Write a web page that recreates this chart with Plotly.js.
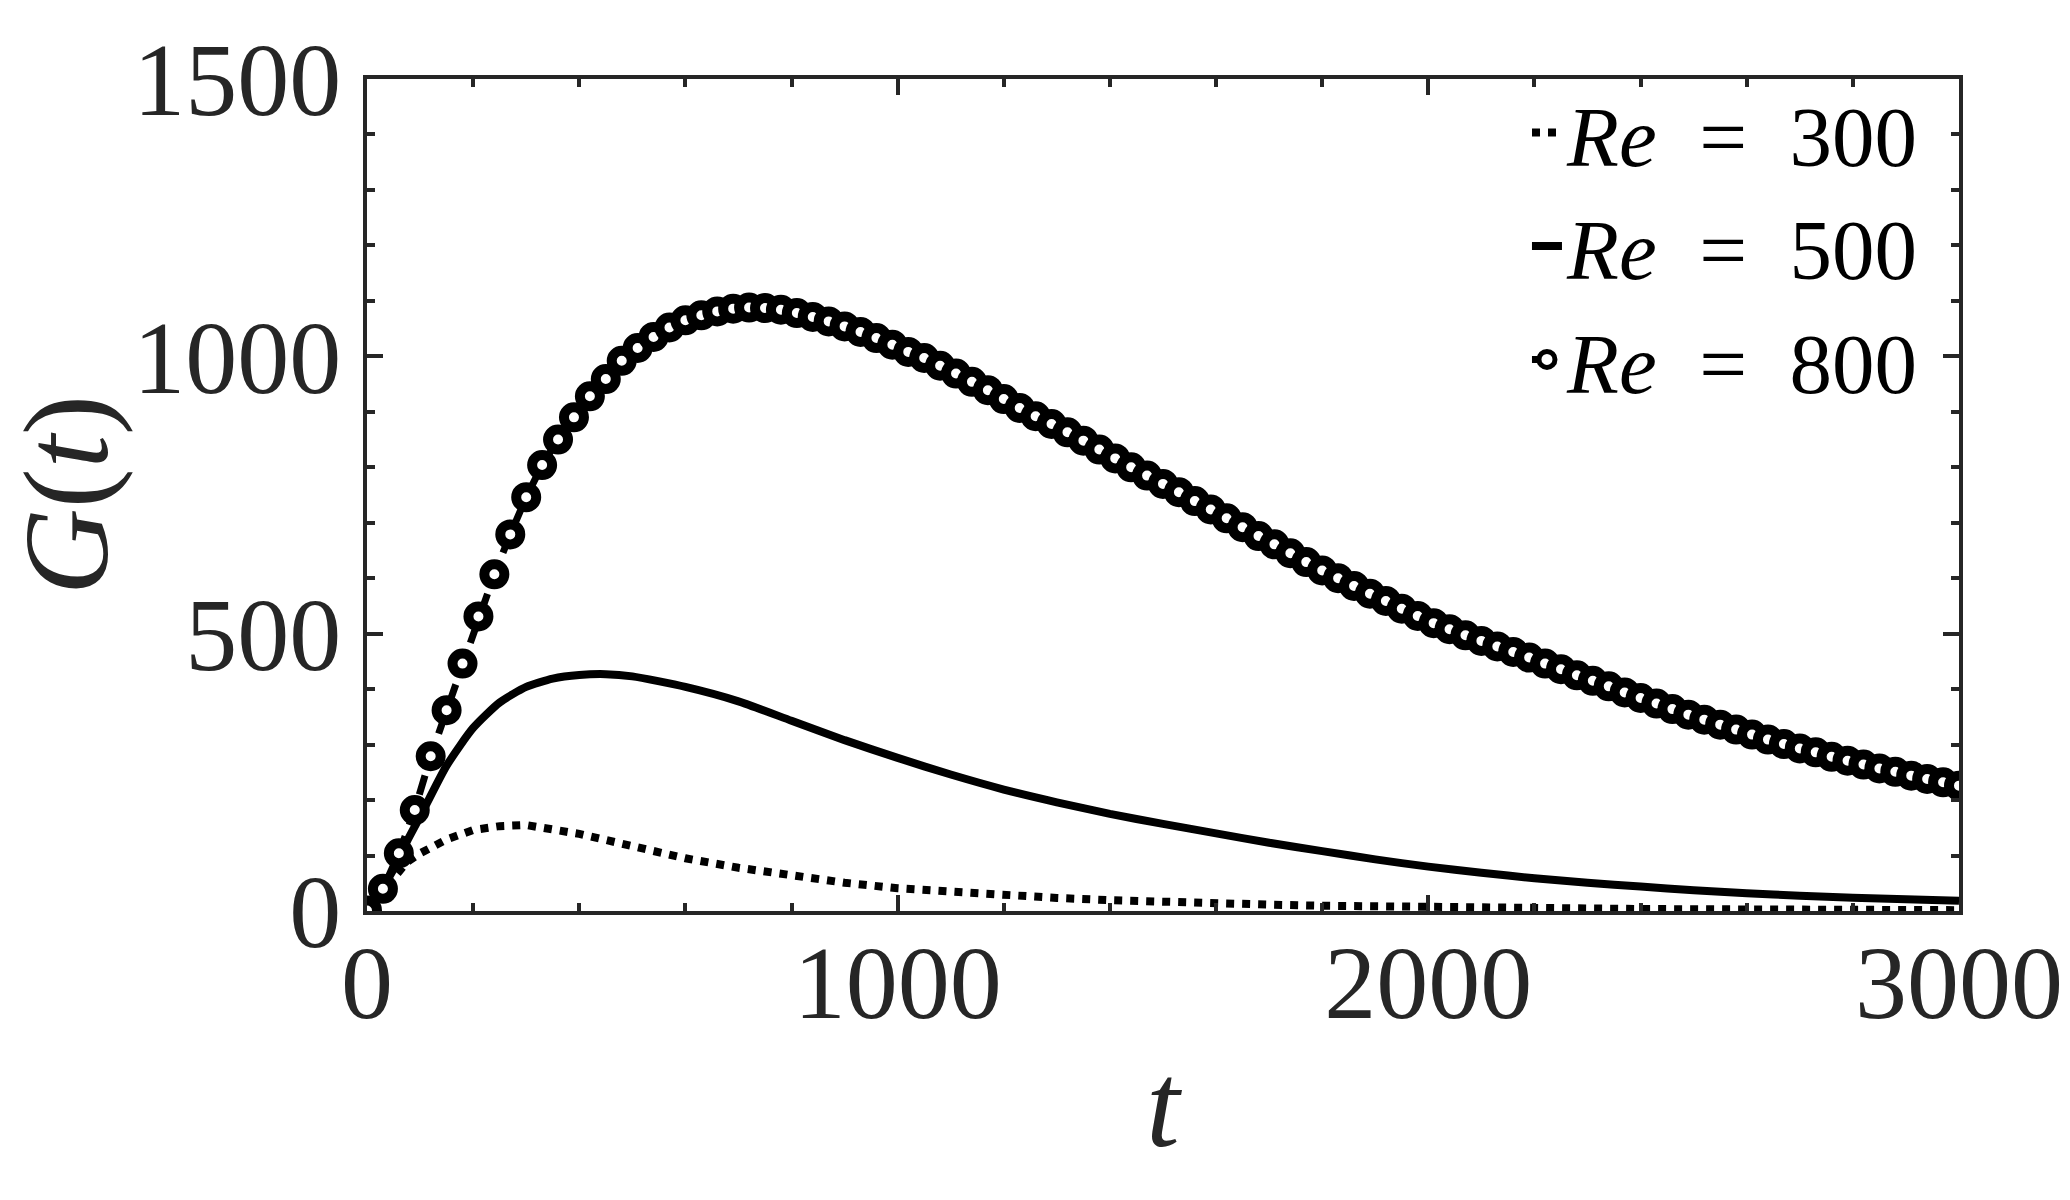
<!DOCTYPE html>
<html>
<head>
<meta charset="utf-8">
<script src="https://cdn.plot.ly/plotly-3.0.1.min.js"></script>
<style>
  html, body { margin: 0; padding: 0; background: #fff; }
  #chart { width: 2070px; height: 1200px; }
</style>
</head>
<body>
<div id="chart"></div>
<script>
// time samples used for the two plain lines
const tLine = [0, 25, 50, 75, 100, 150, 200, 250, 300, 350, 400, 450, 500,
  600, 700, 800, 900, 1000, 1100, 1200, 1300, 1400, 1500, 1600, 1700, 1800,
  1900, 2000, 2100, 2200, 2300, 2400, 2500, 2600, 2700, 2800, 2900, 3000];

// Re = 300, dotted
const g300 = [1, 30, 62, 88, 104, 129, 146, 153, 155, 148, 139, 128, 117,
  95, 78, 63, 51, 41, 34, 28.5, 23.5, 19.5, 16, 13.5, 11.5, 9.5,
  8, 7, 6, 5, 4.3, 3.7, 3.2, 2.7, 2.3, 2, 1.7, 1.5];

// Re = 500, solid
const g500 = [1, 35, 75, 125, 170, 262, 330, 376, 404, 419, 425.5, 427, 423,
  404, 378, 343, 308, 276, 246, 219, 196, 175, 157, 140, 123, 108,
  93, 80, 69, 59, 51, 44, 37.5, 32, 27.5, 24, 21, 18.6];

// Re = 800, dashed line with circle markers (one marker every 30 time units)
const tMarker = [0, 30, 60, 90, 120, 150, 180, 210, 240, 270, 300, 330, 360,
  390, 420, 450, 480, 510, 540, 570, 600, 630, 660, 690, 720, 750, 780, 810,
  840, 870, 900, 930, 960, 990, 1020, 1050, 1080, 1110, 1140, 1170, 1200,
  1230, 1260, 1290, 1320, 1350, 1380, 1410, 1440, 1470, 1500, 1530, 1560,
  1590, 1620, 1650, 1680, 1710, 1740, 1770, 1800, 1830, 1860, 1890, 1920,
  1950, 1980, 2010, 2040, 2070, 2100, 2130, 2160, 2190, 2220, 2250, 2280,
  2310, 2340, 2370, 2400, 2430, 2460, 2490, 2520, 2550, 2580, 2610, 2640,
  2670, 2700, 2730, 2760, 2790, 2820, 2850, 2880, 2910, 2940, 2970, 3000];

const g800 = [1, 40, 104, 182, 279, 362, 446, 531, 607, 679, 746, 804, 850,
  890, 928, 959, 992, 1015, 1035, 1052, 1065, 1074, 1081, 1086, 1088, 1087,
  1084, 1078, 1071, 1063, 1054, 1044, 1033, 1021, 1008, 997, 983, 969, 954,
  939, 923, 907, 892, 878, 863, 848, 832, 816, 800, 785, 770, 755, 739, 724,
  708, 692, 676, 661, 645, 629, 614, 600, 586, 572, 559, 545, 532, 519, 508,
  497, 487, 477, 467, 457, 446, 436, 425, 415, 405, 394, 384, 374, 364, 354,
  345, 336, 327, 318, 309, 301, 293, 286, 278, 271, 264, 257, 251, 244, 238,
  232, 226];

const seriesNames = ['<i>Re</i> \u00a0=\u00a0 300', '<i>Re</i> \u00a0=\u00a0 500', '<i>Re</i> \u00a0=\u00a0 800'];

const FONT = '"Liberation Serif", "DejaVu Serif", serif';
const AXIS_COLOR = '#262626';

var traces = [
  {
    x: tLine, y: g300, name: seriesNames[0],
    mode: 'lines', type: 'scatter',
    line: {color: '#000', width: 8, dash: '8px,8px'}
  },
  {
    x: tLine, y: g500, name: seriesNames[1],
    mode: 'lines', type: 'scatter',
    line: {color: '#000', width: 8, shape: 'spline', smoothing: 0.6}
  },
  {
    x: tMarker, y: g800, name: seriesNames[2],
    mode: 'lines+markers', type: 'scatter',
    line: {color: '#000', width: 7, dash: '20px,12px'},
    marker: {symbol: 'circle', size: 20, color: '#fff', line: {color: '#000', width: 10}}
  }
];

var axisCommon = {
  showline: true,
  linecolor: AXIS_COLOR,
  linewidth: 4,
  mirror: 'ticks',
  ticks: 'inside',
  ticklen: 16,
  tickwidth: 4,
  tickcolor: AXIS_COLOR,
  showgrid: false,
  zeroline: false,
  tickfont: {family: FONT, size: 104, color: AXIS_COLOR},
  automargin: false
};

var layout = {
  width: 2070,
  height: 1200,
  paper_bgcolor: '#fff',
  plot_bgcolor: '#fff',
  margin: {l: 367, r: 111, t: 79, b: 289},
  showlegend: true,
  xaxis: Object.assign({}, axisCommon, {
    range: [0, 3000],
    dtick: 1000,
    tick0: 0,
    ticklabelstandoff: -22,
    minor: {dtick: 200, ticks: 'inside', ticklen: 8, tickwidth: 4, tickcolor: AXIS_COLOR},
    title: {text: '<i>t</i>', font: {family: FONT, size: 120, color: AXIS_COLOR}, standoff: 24}
  }),
  yaxis: Object.assign({}, axisCommon, {
    range: [0, 1500],
    dtick: 500,
    tick0: 0,
    ticklabelstandoff: 1,
    minor: {dtick: 100, ticks: 'inside', ticklen: 8, tickwidth: 4, tickcolor: AXIS_COLOR},
    title: {text: '<i>G</i>(<i>t</i>)', font: {family: FONT, size: 120, color: AXIS_COLOR}, standoff: 70}
  }),
  legend: {
    x: 0.978, xanchor: 'right',
    y: 1.01, yanchor: 'top',
    bgcolor: 'rgba(0,0,0,0)',
    borderwidth: 0,
    itemwidth: 30,
    tracegroupgap: 0,
    font: {family: FONT, size: 85, color: '#000'}
  }
};

Plotly.newPlot('chart', traces, layout, {staticPlot: true, displayModeBar: false});
</script>
</body>
</html>
